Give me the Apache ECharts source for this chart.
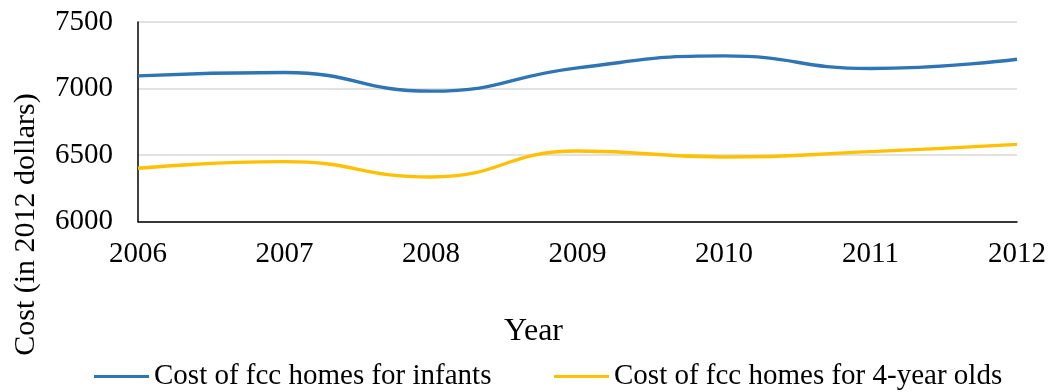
<!DOCTYPE html>
<html>
<head>
<meta charset="utf-8">
<script src="https://cdn.jsdelivr.net/npm/echarts@6/dist/echarts.min.js"></script>
<style>
  html, body { margin: 0; padding: 0; background: #fff; }
  #chart { width: 1052px; height: 392px; }
</style>
</head>
<body>
<div id="chart"></div>
<script>
// Family child care (fcc) home costs, 2006-2012, in 2012 dollars
const years = ['2006', '2007', '2008', '2009', '2010', '2011', '2012'];
const infantCost = [7095, 7120, 6980, 7155, 7245, 7150, 7220];
const fourYearCost = [6400, 6450, 6335, 6530, 6485, 6525, 6580];
const seriesNames = ['Cost of fcc homes for infants', 'Cost of fcc homes for 4-year olds'];
const yTicks = { min: 6000, max: 7500, step: 500 };

const FONT = '"Liberation Serif", "Times New Roman", serif';
const BLUE = '#2E75B6';
const GOLD = '#FFC000';

const chart = echarts.init(document.getElementById('chart'), null, { renderer: 'canvas' });

function legendAt(left, name) {
  return {
    top: 357,
    left: left,
    itemWidth: 55,
    itemHeight: 3,
    icon: 'rect',
    textStyle: { fontFamily: FONT, fontSize: 29, color: '#000' },
    data: [name]
  };
}

chart.setOption({
  backgroundColor: '#ffffff',
  animation: false,
  textStyle: { fontFamily: FONT, color: '#000' },
  grid: { left: 138, right: 35, top: 22, bottom: 170.5 },
  graphic: [{
    type: 'text',
    x: 11,
    y: 224.5,
    rotation: Math.PI / 2,
    style: {
      text: 'Cost (in 2012 dollars)',
      font: '30px ' + FONT,
      fill: '#000',
      align: 'center',
      verticalAlign: 'top'
    }
  }],
  legend: [legendAt(89, seriesNames[0]), legendAt(549, seriesNames[1])],
  xAxis: {
    type: 'category',
    data: years,
    boundaryGap: false,
    name: 'Year',
    nameLocation: 'middle',
    nameGap: 94,
    nameTextStyle: { fontFamily: FONT, fontSize: 32, color: '#000', padding: [0, 88, 0, 0] },
    axisLine: { lineStyle: { color: '#000', width: 1.5 } },
    axisTick: { show: false },
    axisLabel: { fontFamily: FONT, fontSize: 29, color: '#000', margin: 18 },
    splitLine: { show: false }
  },
  yAxis: {
    type: 'value',
    min: yTicks.min,
    max: yTicks.max,
    interval: yTicks.step,
    axisLine: { show: true, lineStyle: { color: '#000', width: 1.5 } },
    axisTick: { show: false },
    axisLabel: {
      fontFamily: FONT, fontSize: 29, color: '#000', margin: 25,
      formatter: (v) => String(v)
    },
    splitLine: { lineStyle: { color: '#d9d9d9', width: 1.5 } }
  },
  series: [
    {
      name: seriesNames[0],
      type: 'line',
      data: infantCost,
      smooth: 0.5,
      symbol: 'none',
      color: BLUE,
      lineStyle: { width: 3.4, color: BLUE }
    },
    {
      name: seriesNames[1],
      type: 'line',
      data: fourYearCost,
      smooth: 0.5,
      symbol: 'none',
      color: GOLD,
      lineStyle: { width: 3.4, color: GOLD }
    }
  ]
});
</script>
</body>
</html>
